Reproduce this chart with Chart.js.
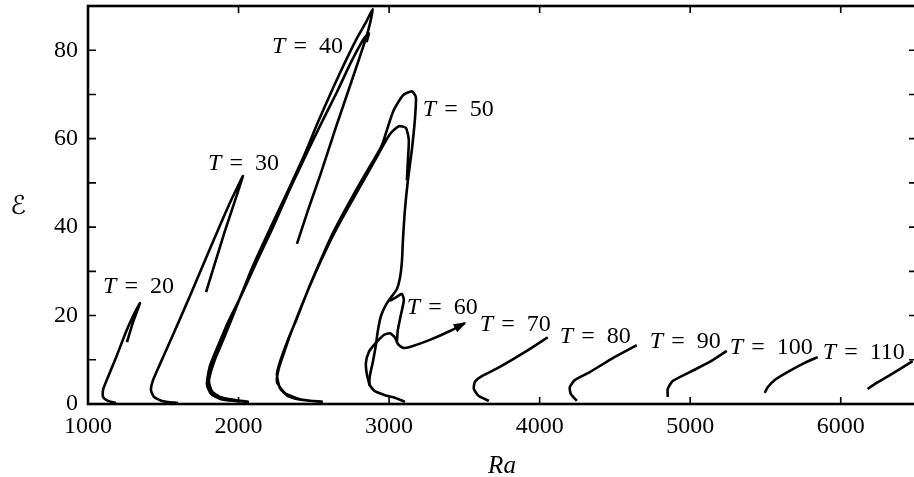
<!DOCTYPE html>
<html>
<head>
<meta charset="utf-8">
<script src="https://cdn.jsdelivr.net/npm/chart.js@4/dist/chart.umd.min.js"></script>
<style>
html,body{margin:0;padding:0;background:#fff;overflow:hidden;}
#wrap{width:920px;height:477px;}
</style>
</head>
<body>
<div id="wrap"><canvas id="c" width="920" height="477"></canvas></div>
<script>
// ---- data (Ra, E); null = break in the curve ----
const raT20 = [1259,1299,1345,1305,1252,1193,1133,1100,1100,1133,1186];
const eT20  = [14.0,18.5,22.8,20.3,16.3,11.1,6.1,3.2,1.6,0.7,0.2];

const raT30 = [1784,1903,2029,1996,1936,1863,1770,1677,1578,1491,1432,1418,1438,1491,1598];
const eT30  = [25.3,38.4,51.5,49.3,45.0,39.3,31.9,24.4,16.7,10.0,5.4,3.2,1.6,0.7,0.2];

const raT40 = [2388,2461,2547,2647,2753,2846,2872,2892,
               2846,2780,2713,2627,2527,2428,2321,2195,2089,1996,1903,1837,1803,1823,1876,1976,2062,
               1983,1883,1817,1790,1810,1863,1930,2016,2122,2222,2341,2448,2547,2653,2740,2806,2839,2866,2850];
const eT40  = [36.2,43.8,52.2,62.6,73.2,82.7,85.9,89.3,
               86.3,82.3,77.7,71.4,63.7,55.6,47.7,38.6,30.7,22.8,14.9,9.5,5.2,2.9,1.6,0.9,0.5,
               0.7,1.1,2.3,4.5,8.6,13.1,18.5,24.4,32.3,39.5,48.6,56.3,63.3,70.5,76.8,81.1,82.9,83.8,81.8];

const raT50 = [2560,2428,2328,2275,2255,2275,2328,2388,2461,2540,2620,2706,2806,2886,2952,3025,3092,3151,3178,3171,3151,3125,3105,3092,3085,3072,3052,3019,2979,2946,2926,2912,2892,2872,2872,2906,2972,3038,3105,
               null,
               2540,2408,2308,2255,2268,2308,2355,2421,2501,2580,2660,2753,2846,2932,3005,3065,3112,3131,3125,3118];
const eT50  = [0.5,0.9,1.8,3.6,6.6,9.5,14.5,19.4,25.8,32.1,38.2,43.8,49.9,54.5,58.5,66.0,69.8,70.7,69.4,64.2,57.4,50.6,43.8,37.1,32.1,28.5,26.0,24.4,22.4,19.9,16.7,13.3,9.5,6.3,4.3,2.9,2.0,1.4,0.5,
               null,
               0.5,1.1,2.5,5.0,8.1,12.2,16.7,22.4,28.9,34.8,40.2,45.9,51.5,56.7,61.0,62.8,62.4,59.7,55.1,50.6];

const raT60 = [2872,2853,2846,2866,2912,2965,3005,3038,3058,3092,3138,3271,3404,3503,
               null,
               3005,3045,3085,3098,3078,3058,3052];
const eT60  = [4.1,6.6,9.3,11.8,13.8,15.6,16.0,15.1,13.6,12.7,12.9,14.5,16.5,18.3,
               null,
               23.3,24.1,24.9,23.5,20.1,16.7,14.0];

const raT70  = [3663,3596,3563,3570,3616,3736,3915,4054];
const eT70   = [0.7,1.8,3.4,5.0,6.3,8.4,12.0,15.1];
const raT80  = [4247,4207,4200,4234,4333,4486,4645];
const eT80   = [0.7,2.3,3.8,5.4,7.2,10.4,13.3];
const raT90  = [4851,4851,4884,4997,5130,5243];
const eT90   = [1.6,3.4,5.2,7.2,9.5,12.0];
const raT100 = [5495,5515,5568,5661,5761,5847];
const eT100  = [2.5,3.8,5.6,7.5,9.3,10.6];
const raT110 = [6179,6226,6305,6392,6478];
const eT110  = [3.4,4.5,6.1,7.9,9.7];

// curve labels: T value and anchor (Ra, E) of the label's left/middle
const labelT  = [20,30,40,50,60,70,80,90,100,110];
const labelRa = [1100,1797,2222,3224,3118,3603,4134,4732,5263,5880];
const labelE  = [26.9,54.7,81.1,66.9,22.1,18.3,15.6,14.5,13.1,12.0];

const xTicks = [1000,2000,3000,4000,5000,6000];
const yTicksMajor = [0,20,40,60,80];

// ---- chart ----
const SERIF = "'Liberation Serif','Times New Roman',serif";
function pts(ra, e){ return ra.map((x,i)=>({x:x, y:e[i]})); }
const curves = [[raT20,eT20],[raT30,eT30],[raT40,eT40],[raT50,eT50],[raT60,eT60],
                [raT70,eT70],[raT80,eT80],[raT90,eT90],[raT100,eT100],[raT110,eT110]];

const datasets = curves.map((c,i)=>({
  label:'T='+labelT[i],
  data:pts(c[0],c[1]),
  showLine:true,
  borderColor:'#000',
  borderWidth:2.6,
  pointRadius:0,
  tension:0.2,
  spanGaps:false,
  fill:false
}));

const decor = {
  id:'decor',
  afterDatasetsDraw(chart){
    const ctx = chart.ctx;
    // arrow head on T=60
    const meta = chart.getDatasetMeta(4);
    const n = raT60.indexOf(null) - 1;
    const p1 = meta.data[n], p0 = meta.data[n-1];
    const ang = Math.atan2(p1.y-p0.y, p1.x-p0.x);
    ctx.save();
    ctx.fillStyle='#000';
    ctx.beginPath();
    ctx.moveTo(p1.x+2*Math.cos(ang), p1.y+2*Math.sin(ang));
    ctx.lineTo(p1.x-11*Math.cos(ang)+4.5*Math.sin(ang), p1.y-11*Math.sin(ang)-4.5*Math.cos(ang));
    ctx.lineTo(p1.x-11*Math.cos(ang)-4.5*Math.sin(ang), p1.y-11*Math.sin(ang)+4.5*Math.cos(ang));
    ctx.closePath();
    ctx.fill();
    ctx.restore();
  },
  afterDraw(chart){
    const ctx = chart.ctx, a = chart.chartArea, xs = chart.scales.x, ys = chart.scales.y;
    ctx.save();
    ctx.strokeStyle='#000';
    // inward ticks
    ctx.lineWidth=1.6;
    ctx.beginPath();
    xTicks.forEach(v=>{
      const px = xs.getPixelForValue(v);
      ctx.moveTo(px,a.bottom); ctx.lineTo(px,a.bottom-7);
      ctx.moveTo(px,a.top); ctx.lineTo(px,a.top+7);
    });
    for(let v=0; v<=90; v+=10){
      const py = ys.getPixelForValue(v);
      ctx.moveTo(a.left,py); ctx.lineTo(a.left+8,py);
      ctx.moveTo(a.right,py); ctx.lineTo(a.right-7,py);
    }
    ctx.stroke();
    // frame
    ctx.lineWidth=2.6;
    ctx.strokeRect(a.left, a.top, a.right-a.left, a.bottom-a.top);
    // curve labels
    ctx.fillStyle='#000';
    ctx.textBaseline='alphabetic';
    ctx.textAlign='left';
    labelT.forEach((t,i)=>{
      const px = xs.getPixelForValue(labelRa[i]);
      const py = ys.getPixelForValue(labelE[i]) + 8;
      ctx.font = "italic 24px "+SERIF;
      ctx.fillText('T', px, py);
      ctx.font = "24px "+SERIF;
      ctx.fillText('=', px+21.5, py);
      ctx.fillText(String(t), px+47, py);
    });
    // axis titles
    ctx.textAlign='center';
    ctx.font = "italic 25px "+SERIF;
    ctx.fillText('Ra', (a.left+a.right)/2, 473);
    ctx.textBaseline='middle';
    ctx.font = "26px 'DejaVu Serif','DejaVu Sans',serif";
    ctx.fillText('\u2130', 18, 207);
    ctx.restore();
  }
};

new Chart(document.getElementById('c'), {
  type:'scatter',
  data:{datasets:datasets},
  options:{
    responsive:false,
    animation:false,
    devicePixelRatio:1,
    layout:{padding:{top:6,right:4,left:0,bottom:0}},
    plugins:{legend:{display:false},tooltip:{enabled:false}},
    scales:{
      x:{
        type:'linear', min:1000, max:6500,
        grid:{display:false, drawTicks:false},
        border:{display:false},
        afterFit(s){ s.height = 73; s.paddingLeft = 0; s.paddingRight = 0; },
        afterBuildTicks(s){ s.ticks = xTicks.map(v=>({value:v})); },
        ticks:{font:{family:SERIF,size:24}, color:'#000', padding:8, maxRotation:0,
               callback:(v)=>String(v)}
      },
      y:{
        type:'linear', min:0, max:90,
        grid:{display:false, drawTicks:false},
        border:{display:false},
        afterFit(s){ s.width = 88; s.paddingTop = 0; s.paddingBottom = 0; },
        afterBuildTicks(s){ s.ticks = yTicksMajor.map(v=>({value:v})); },
        ticks:{font:{family:SERIF,size:24}, color:'#000', padding:10,
               callback:(v)=>String(v)}
      }
    }
  },
  plugins:[decor]
});
</script>
</body>
</html>
